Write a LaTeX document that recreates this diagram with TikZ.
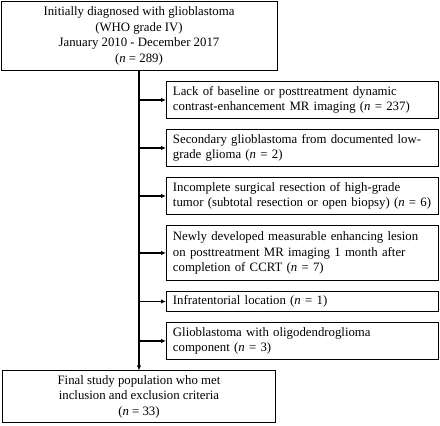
\documentclass[tikz,border=0pt]{standalone}
\usepackage{fontspec}
\setmainfont{Liberation Serif}
\usetikzlibrary{arrows.meta,positioning}

\begin{document}
\begin{tikzpicture}[x=1pt,y=-1pt,node distance=10.1pt,
  font=\fontsize{12.8}{15.8}\selectfont,
  mainbox/.style={draw,line width=0.9pt,align=center,minimum height=69pt,inner sep=3pt},
  sidebox/.style={draw,line width=0.9pt,align=left,text width=259pt,inner xsep=6.5pt,inner ysep=3pt,minimum height=#1},
  sidebox/.default=37pt,
  arr/.style={-{Latex[length=5pt,width=4.5pt]},line width=1.3pt}]
  \useasboundingbox (0,0) rectangle (440,426);
  \node[mainbox,minimum width=276pt,anchor=north] (init) at (139,1)
    {Initially diagnosed with glioblastoma\\(WHO grade IV)\\January 2010 - December 2017\\(\textit{n} = 289)};
  \node[sidebox,anchor=north west] (lack) at (166,81)
    {Lack of baseline or posttreatment dynamic\\contrast-enhancement MR imaging (\textit{n} = 237)};
  \node[sidebox,below=of lack] (sec) {Secondary glioblastoma from documented low-\\grade glioma (\textit{n} = 2)};
  \node[sidebox,below=of sec] (incomp) {Incomplete surgical resection of high-grade\\tumor (subtotal resection or open biopsy) (\textit{n} = 6)};
  \node[sidebox=55pt,below=of incomp] (newles) {Newly developed measurable enhancing lesion\\on posttreatment MR imaging 1 month after\\completion of CCRT (\textit{n} = 7)};
  \node[sidebox=20pt,below=of newles] (infra) {Infratentorial location (\textit{n} = 1)};
  \node[sidebox,below=of infra] (oligo) {Glioblastoma with oligodendroglioma\\component (\textit{n} = 3)};
  \node[mainbox,minimum width=273pt,minimum height=52pt,anchor=north] (final) at ([yshift=-10.5pt]init.south |- oligo.south)
    {Final study population who met\\inclusion and exclusion criteria\\(\textit{n} = 33)};
  % exclusions branch off the main line
  \draw[arr] (init.south) -- (final.north);
  \foreach \b in {lack,sec,incomp,newles,infra,oligo}
    \draw[arr] (init.south |- \b.west) -- (\b.west);
\end{tikzpicture}
\end{document}
